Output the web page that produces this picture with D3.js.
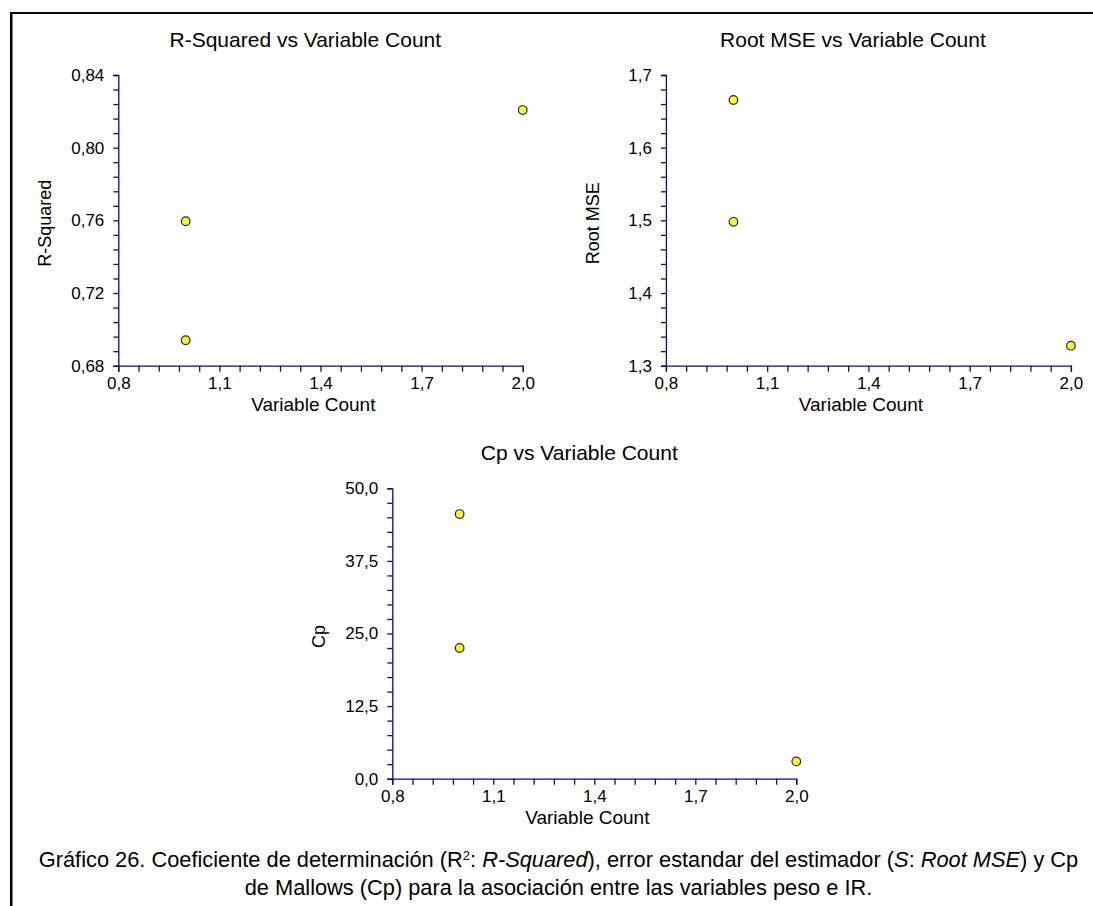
<!DOCTYPE html>
<html>
<head>
<meta charset="utf-8">
<script src="https://cdn.jsdelivr.net/npm/d3@7"></script>
<style>
  body { margin: 0; background: #fff; }
  text { font-family: "Liberation Sans", Arial, sans-serif; fill: #000; }
</style>
</head>
<body>
<div id="chart"></div>
<script>
/* Subset selection plots: R-Squared, Root MSE and Cp vs variable count */

// values (three models: two with 1 variable, one with 2)
const varCount = [1, 1, 2];
const rSquared = [0.7595, 0.694, 0.8207];
const rootMSE = [1.498, 1.6656, 1.3275];
const cpValues = [22.5, 45.57, 2.98];

// tick labels
const xTicks = [0.8, 1.1, 1.4, 1.7, 2.0];
const r2Ticks = [0.68, 0.72, 0.76, 0.80, 0.84];
const rmseTicks = [1.3, 1.4, 1.5, 1.6, 1.7];
const cpTicks = [0, 12.5, 25, 37.5, 50];

const width = 1093, height = 906;
const axisColor = "#0a0a96";

const svg = d3.select("#chart")
    .append("svg")
    .attr("width", width)
    .attr("height", height);

// frame (only top and left edges show)
svg.append("rect").attr("x", 10).attr("y", 12).attr("width", width - 10).attr("height", 2).attr("fill", "#000");
svg.append("rect").attr("x", 10).attr("y", 12).attr("width", 2.5).attr("height", height - 12).attr("fill", "#000");

const locale = d3.formatLocale({ decimal: ",", thousands: ".", grouping: [3], currency: ["", ""] });

function minorRange(ticks, n) {
    // every major interval split in n parts
    const out = [];
    for (let i = 0; i < ticks.length - 1; i++) {
        const step = (ticks[i + 1] - ticks[i]) / n;
        for (let k = 0; k < n; k++) out.push(ticks[i] + k * step);
    }
    out.push(ticks[ticks.length - 1]);
    return out;
}

function panel(p) {
    const x = d3.scaleLinear().domain([xTicks[0], xTicks[xTicks.length - 1]]).range([p.left, p.right]);
    const y = d3.scaleLinear().domain([p.yTicks[0], p.yTicks[p.yTicks.length - 1]]).range([p.bottom, p.top]);
    const fx = locale.format(".1f"), fy = locale.format(p.fmt);
    const isMajor = (v, arr) => arr.some(t => Math.abs(t - v) < 1e-9);

    const gx = svg.append("g")
        .attr("transform", `translate(0,${p.bottom})`)
        .call(d3.axisBottom(x).tickValues(minorRange(xTicks, 5)).tickSize(6).tickPadding(5.5)
            .tickFormat(d => isMajor(d, xTicks) ? fx(d) : ""));

    const gy = svg.append("g")
        .attr("transform", `translate(${p.left},0)`)
        .call(d3.axisLeft(y).tickValues(minorRange(p.yTicks, 5)).tickSize(5).tickPadding(9)
            .tickFormat(d => isMajor(d, p.yTicks) ? fy(d) : ""));

    [gx, gy].forEach(g => {
        g.select(".domain").attr("stroke", axisColor).attr("stroke-width", 1.3);
        g.selectAll(".tick line").attr("stroke", axisColor).attr("stroke-width", 1.3);
        g.selectAll(".tick text").attr("font-size", 17).attr("font-family", "Liberation Sans, Arial, sans-serif").attr("fill", "#000");
    });

    svg.append("text")
        .attr("x", p.left + 187).attr("y", p.top - 28)
        .attr("text-anchor", "middle").attr("font-size", 21)
        .text(p.title);

    svg.append("text")
        .attr("x", p.left + 195).attr("y", p.bottom + 45)
        .attr("text-anchor", "middle").attr("font-size", 19)
        .text("Variable Count");

    svg.append("text")
        .attr("transform", `translate(${p.left - 67},${(p.top + p.bottom) / 2 + 3}) rotate(-90)`)
        .attr("text-anchor", "middle").attr("font-size", 18)
        .text(p.yLabel);

    svg.append("g")
        .selectAll("circle")
        .data(p.values)
        .join("circle")
        .attr("cx", (d, i) => x(varCount[i]))
        .attr("cy", d => y(d))
        .attr("r", 4.3)
        .attr("fill", "#ffff00")
        .attr("stroke", "#1a1a8c")
        .attr("stroke-width", 1.2);
}

panel({ left: 118.3, right: 522.7, top: 75, bottom: 365.7, yTicks: r2Ticks, fmt: ".2f",
        values: rSquared, title: "R-Squared vs Variable Count", yLabel: "R-Squared" });
panel({ left: 665.9, right: 1070.9, top: 75, bottom: 365.7, yTicks: rmseTicks, fmt: ".1f",
        values: rootMSE, title: "Root MSE vs Variable Count", yLabel: "Root MSE" });
panel({ left: 392.3, right: 796.3, top: 488.3, bottom: 778.7, yTicks: cpTicks, fmt: ".1f",
        values: cpValues, title: "Cp vs Variable Count", yLabel: "Cp" });

// caption below the figure
const cap = svg.append("g").attr("font-size", 21.8);
const l1 = cap.append("text").attr("x", 558.5).attr("y", 867).attr("text-anchor", "middle");
l1.append("tspan").text("Gráfico 26. Coeficiente de determinación (R");
l1.append("tspan").attr("font-size", 13).attr("dy", -7).text("2");
l1.append("tspan").attr("dy", 7).text(": ");
l1.append("tspan").attr("font-style", "italic").text("R-Squared");
l1.append("tspan").text("), error estandar del estimador (");
l1.append("tspan").attr("font-style", "italic").text("S");
l1.append("tspan").text(": ");
l1.append("tspan").attr("font-style", "italic").text("Root MSE");
l1.append("tspan").text(") y Cp");

cap.append("text").attr("x", 558.5).attr("y", 895).attr("text-anchor", "middle")
    .text("de Mallows (Cp) para la asociación entre las variables peso e IR.");
</script>
</body>
</html>
